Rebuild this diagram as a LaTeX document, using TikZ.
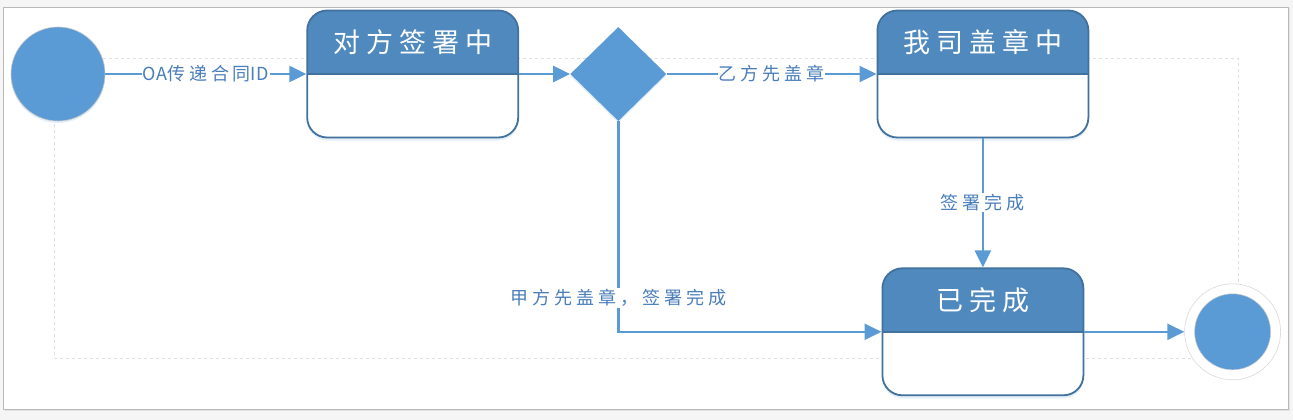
\documentclass[tikz,border=0pt]{standalone}
\usepackage{fontspec}
\newfontfamily\cjk{Noto Sans CJK SC}[LetterSpace=22]
\newfontfamily\latn{Noto Sans CJK SC}
\usetikzlibrary{positioning,arrows.meta,shapes.geometric,shadows}
\definecolor{fillblue}{RGB}{91,155,213}
\definecolor{headblue}{RGB}{80,137,189}
\definecolor{edgeblue}{RGB}{65,113,156}
\definecolor{textblue}{RGB}{74,126,187}

\begin{document}
\begin{tikzpicture}[
    x=1pt, y=-1pt,
    state/.style={rectangle, draw=edgeblue, line width=1.8pt, rounded corners=20pt, fill=white,
                  minimum width=211pt, minimum height=127pt, inner sep=0pt,
                  drop shadow={shadow xshift=0pt, shadow yshift=-3pt, fill=fillblue!40, opacity=.4},
                  path picture={
                    \fill[headblue, sharp corners] (path picture bounding box.north west) rectangle (path picture bounding box.east);
                    \draw[edgeblue, line width=1.8pt] (path picture bounding box.west) -- (path picture bounding box.east);}},
    title/.style={text=white, font=\cjk\fontsize{27}{30}\selectfont, yshift=32pt},
    startnode/.style={circle, draw=gray!45, line width=0.6pt, fill=fillblue, minimum size=94pt, inner sep=0pt,
                      drop shadow={shadow xshift=0pt, shadow yshift=-2pt, fill=fillblue!40, opacity=.4}},
    endnode/.style={circle, draw=gray!30, line width=0.6pt, fill=white, minimum size=96pt, inner sep=0pt,
                    path picture={\fill[fillblue, draw=gray!40, line width=0.5pt] (path picture bounding box.center) circle[radius=38pt];}},
    choice/.style={diamond, fill=fillblue, minimum width=96pt, minimum height=94pt, inner sep=0pt,
                   drop shadow={shadow xshift=0pt, shadow yshift=-2pt, fill=fillblue!40, opacity=.4}},
    arrow/.style={draw=fillblue, line width=2.4pt, -{Triangle[length=17pt, width=16pt]}},
    elabel/.style={fill=white, text=textblue, font=\cjk\fontsize{18}{20}\selectfont, inner sep=1pt},
    pagegrid/.style={draw=gray!25, dashed, line width=0.6pt},
  ]
    \useasboundingbox (0,0) rectangle (1293,420);
    \fill[gray!8] (0,0) rectangle (1293,420);
    \draw[gray!55, fill=white, drop shadow={shadow xshift=1.5pt, shadow yshift=-1.5pt, fill=gray!35}] (3,7) rectangle (1288,409);
    \draw[pagegrid] (54,58) rectangle (1238,358);

    \node[startnode] (start) at (58,74) {};
    \node[state, right=201pt of start, label={[title]center:对方签署中}] (sign) {};
    \node[choice, right=51pt of sign] (dec) {};
    \node[state, right=210pt of dec, label={[title]center:我司盖章中}] (stamp) {};
    \node[state, minimum width=201pt, below=129pt of stamp, label={[title]center:已完成}] (done) {};
    \node[endnode, right=100pt of done] (end) {};

    \draw[arrow] (start) -- node[elabel] {{\latn OA}传递合同{\latn ID}} (sign);
    \draw[arrow] (sign) -- (dec);
    \draw[arrow] (dec) -- node[elabel] {乙方先盖章} (stamp);
    \draw[arrow] (stamp) -- node[elabel] {签署完成} (done);
    \draw[arrow] (dec) |- node[elabel, pos=0.42] {甲方先盖章，签署完成} (done);
    \draw[arrow] (done) -- (end);
  \end{tikzpicture}
\end{document}
